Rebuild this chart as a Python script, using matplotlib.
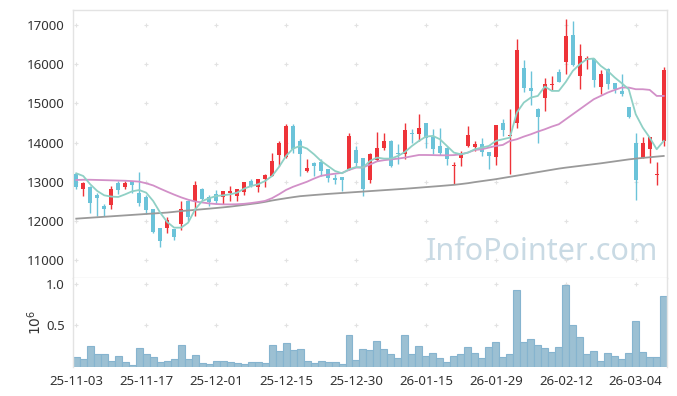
"""Candlestick chart with moving averages and volume panel."""

import matplotlib

matplotlib.use("Agg")
import matplotlib.pyplot as plt
import numpy as np

# ---- data ---------------------------------------------------------------
tick_labels = ["25-11-03", "25-11-17", "25-12-01", "25-12-15", "25-12-30",
               "26-01-15", "26-01-29", "26-02-12", "26-03-04"]

opens = [13189, 12806, 12865, 12652, 12380, 12405, 12968, 12865, 13010, 12720,
         12610, 12294, 11817, 11825, 11783, 11910, 12499, 12499, 12806, 12601,
         12678, 12619, 12720, 12635, 12737, 13018, 12874, 13061, 13146, 13683,
         13620, 14425, 14042, 13275, 13479, 13496, 13317, 13087, 13113, 13317,
         13803, 13598, 13044, 13556, 13863, 14033, 13718, 13718, 14255, 14229,
         14494, 14144, 13914, 13871, 13402, 13616, 13914, 13888, 13956, 13761,
         13641, 14494, 14170, 14494, 15917, 15389, 14852, 15142, 15474, 15807,
         16062, 16744, 15704, 16114, 16148, 15431, 15892, 15517, 15321, 14911,
         14000, 13615, 13828, 13164, 14042]
highs = [13232, 12990, 12880, 12700, 12422, 12891, 13019, 13019, 13030, 13257,
         12652, 12310, 11830, 12107, 11800, 12507, 12520, 13018, 12830, 12670,
         12780, 12763, 12890, 12806, 12993, 13060, 13061, 13190, 13744, 14040,
         14468, 14468, 14102, 13590, 13500, 13573, 13330, 13189, 13125, 14255,
         13914, 13610, 13726, 14281, 14255, 14059, 13956, 14511, 14340, 14741,
         14500, 14357, 14366, 13880, 13513, 13786, 14425, 14042, 14127, 13770,
         14443, 14596, 14852, 16642, 16105, 15832, 14894, 15662, 15704, 15875,
         17153, 17111, 16531, 16216, 16160, 15858, 15900, 15530, 15747, 14920,
         14255, 14153, 14144, 13504, 15943]
lows = [12806, 12635, 12209, 12115, 12124, 12311, 12678, 12806, 12720, 12380,
        12166, 11700, 11339, 11697, 11509, 11765, 12000, 12123, 12540, 12385,
        12430, 12430, 12500, 12516, 12650, 12860, 12736, 12874, 13140, 13400,
        13600, 13743, 13147, 13249, 13147, 13147, 12993, 12934, 12763, 13300,
        13402, 12635, 12960, 13530, 13811, 13385, 13462, 13590, 14000, 14042,
        13871, 13701, 13675, 13428, 12934, 13402, 13897, 13786, 13658, 13334,
        13419, 14170, 13189, 14383, 15295, 14954, 14000, 14809, 15346, 15540,
        15747, 15960, 15363, 15875, 15431, 15235, 15363, 15278, 15193, 14638,
        12524, 13600, 13470, 12908, 13914]
closes = [12865, 12976, 12465, 12584, 12294, 12806, 12789, 12968, 12917, 12448,
          12277, 11714, 11484, 12013, 11578, 12294, 12107, 12925, 12567, 12481,
          12507, 12763, 12740, 12806, 12993, 12890, 13061, 13164, 13530, 14000,
          14425, 13846, 13718, 13345, 13402, 13275, 13104, 13044, 13044, 14170,
          13488, 12806, 13700, 13854, 14033, 13402, 13700, 14315, 14212, 14366,
          14110, 13846, 13726, 13573, 13436, 13683, 14187, 13974, 13769, 13658,
          14443, 14323, 14204, 16361, 15406, 15321, 14664, 15491, 15491, 15551,
          16727, 15977, 16216, 16148, 15602, 15747, 15491, 15363, 15235, 14664,
          13044, 13982, 14144, 13189, 15849]

ma_short = [13215, 13146, 12934, 12763, 12652, 12620, 12610, 12678, 12755, 12788,
            12720, 12507, 12209, 11970, 11826, 11826, 11953, 12294, 12507, 12576,
            12635, 12652, 12678, 12720, 12823, 12890, 12934, 13018, 13146, 13380,
            13658, 13846, 13914, 13846, 13700, 13530, 13402, 13274, 13215, 13317,
            13376, 13360, 13530, 13616, 13590, 13590, 13658, 13760, 13914, 14042,
            14153, 14170, 14085, 13914, 13744, 13700, 13744, 13829, 13872, 13914,
            14042, 14085, 14127, 14767, 15023, 15150, 15192, 15432, 15320, 15320,
            15550, 15831, 16003, 16130, 16148, 15960, 15831, 15662, 15517, 15363,
            14724, 14383, 14127, 13829, 14042]
ma_mid = [13044, 13050, 13050, 13045, 13040, 13035, 13030, 13025, 13015, 13002,
          12960, 12905, 12823, 12745, 12670, 12600, 12540, 12495, 12470, 12445,
          12430, 12422, 12420, 12425, 12435, 12455, 12480, 12510, 12580, 12680,
          12790, 12870, 12935, 13000, 13080, 13150, 13180, 13205, 13225, 13300,
          13360, 13365, 13440, 13520, 13550, 13570, 13590, 13616, 13650, 13683,
          13683, 13680, 13675, 13675, 13680, 13700, 13744, 13812, 13829, 13872,
          13914, 13940, 14042, 14085, 14153, 14212, 14280, 14340, 14409, 14468,
          14596, 14724, 14852, 14980, 15107, 15192, 15278, 15346, 15406, 15406,
          15363, 15363, 15346, 15192, 15192]
ma_long = [12056, 12068, 12080, 12092, 12104, 12116, 12128, 12140, 12152, 12164,
           12176, 12188, 12200, 12212, 12230, 12250, 12265, 12280, 12296, 12312,
           12328, 12345, 12363, 12385, 12408, 12432, 12455, 12485, 12520, 12550,
           12578, 12605, 12630, 12645, 12660, 12674, 12688, 12700, 12712, 12724,
           12736, 12748, 12760, 12772, 12784, 12796, 12808, 12820, 12834, 12848,
           12862, 12876, 12890, 12905, 12920, 12940, 12962, 12990, 13015, 13040,
           13065, 13095, 13125, 13155, 13185, 13215, 13245, 13275, 13305, 13335,
           13360, 13382, 13404, 13426, 13448, 13470, 13495, 13520, 13545, 13570,
           13590, 13608, 13625, 13642, 13658]

volume = [0.120, 0.097, 0.254, 0.157, 0.157, 0.073, 0.133, 0.060, 0.024, 0.230,
          0.157, 0.120, 0.060, 0.073, 0.097, 0.266, 0.097, 0.145, 0.048, 0.036,
          0.073, 0.073, 0.060, 0.048, 0.036, 0.060, 0.060, 0.048, 0.266, 0.194,
          0.290, 0.206, 0.218, 0.073, 0.048, 0.073, 0.060, 0.060, 0.036, 0.387,
          0.085, 0.218, 0.206, 0.315, 0.218, 0.157, 0.109, 0.387, 0.157, 0.254,
          0.133, 0.169, 0.109, 0.060, 0.133, 0.157, 0.242, 0.169, 0.109, 0.242,
          0.302, 0.121, 0.157, 0.931, 0.302, 0.339, 0.266, 0.230, 0.181, 0.242,
          0.984, 0.508, 0.363, 0.157, 0.194, 0.073, 0.169, 0.133, 0.097, 0.169,
          0.556, 0.181, 0.121, 0.121, 0.859]

# ---- styling -------------------------------------------------------------
UP = "#EE3339"
DOWN = "#6BC3D9"
GRID = "#E2E2E2"
TEXT = "#333333"

plt.rcParams["font.family"] = ["Noto Sans", "DejaVu Sans"]

fig = plt.figure(figsize=(6.77, 3.96), dpi=100)
ax = fig.add_axes([0.108, 0.298, 0.877, 0.677])
axv = fig.add_axes([0.108, 0.073, 0.877, 0.225], sharex=ax)

x = np.arange(len(closes))
o = np.array(opens, dtype=float)
c = np.array(closes, dtype=float)
up = c >= o
colors = np.where(up, UP, DOWN)

# wicks then bodies
ax.vlines(x, lows, highs, colors=colors, linewidth=1.0, zorder=2)
bottoms = np.minimum(o, c)
heights = np.maximum(np.abs(c - o), 35)
ax.bar(x, heights, bottom=bottoms, width=0.62, color=colors, linewidth=0, zorder=3)

ax.plot(x, ma_long, color="#9A9A9A", linewidth=1.3, zorder=4)
ax.plot(x, ma_mid, color="#D290C8", linewidth=1.3, zorder=4)
ax.plot(x, ma_short, color="#8FD0C5", linewidth=1.3, zorder=4)

ax.set_xlim(-0.45, len(closes) - 0.55)
ax.set_ylim(10540, 17390)
price_ticks = np.arange(11000, 17001, 1000)
ax.set_yticks(price_ticks)
ax.set_yticklabels([str(v) for v in price_ticks])
xt = np.arange(0, len(closes), 10)
ax.set_xticks(xt)
ax.tick_params(axis="x", labelbottom=False, length=0)
ax.tick_params(axis="y", length=0, labelsize=9.5, labelcolor=TEXT, pad=6)

# plus-shaped grid marks
gx, gy = np.meshgrid(xt, price_ticks)
ax.scatter(gx.ravel(), gy.ravel(), marker="+", s=12, color=GRID, linewidths=0.8, zorder=1)

ax.text(0.985, 0.04, "InfoPointer.com", transform=ax.transAxes, ha="right", va="bottom",
        fontsize=22, color="#C9DAE4", zorder=0)

# volume panel
axv.bar(x, volume, width=1.0, color="#9CC0D3", edgecolor="#86B4CF", linewidth=0.8, zorder=2)
axv.set_ylim(0, 1.07)
axv.set_yticks([0.5, 1.0])
axv.set_yticklabels(["0.5", "1.0"])
axv.set_xticks(xt)
axv.set_xticklabels(tick_labels)
axv.tick_params(length=0, labelsize=9.5, labelcolor=TEXT, pad=6)
vx, vy = np.meshgrid(xt, [0.5, 1.0])
axv.scatter(vx.ravel(), vy.ravel(), marker="+", s=12, color=GRID, linewidths=0.8, zorder=1)
fig.text(0.052, 0.187, r"$10^6$", rotation=90, ha="center", va="center",
         fontsize=10, color=TEXT)

for a in (ax, axv):
    for side in a.spines.values():
        side.set_color("#E3E3E3")
        side.set_linewidth(1.0)
axv.spines["top"].set_visible(False)
axv.spines["bottom"].set_visible(False)

fig.savefig("out.png", dpi=100)
